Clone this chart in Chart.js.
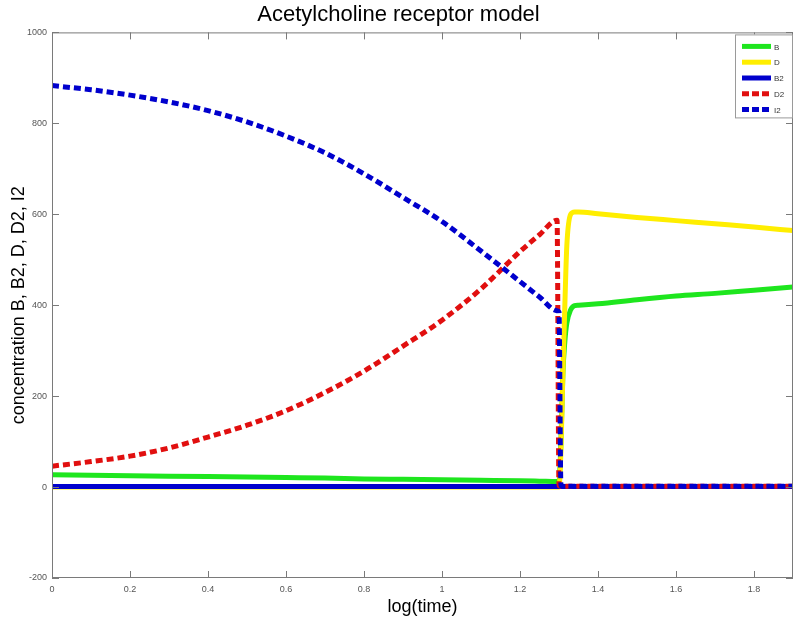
<!DOCTYPE html>
<html>
<head>
<meta charset="utf-8">
<title>Acetylcholine receptor model</title>
<script src="https://cdn.jsdelivr.net/npm/chart.js@4.4.1/dist/chart.umd.min.js"></script>
<style>
  html, body { margin: 0; padding: 0; background: #fff; }
  #wrap { width: 795px; height: 621px; }
</style>
</head>
<body>
<div id="wrap"><canvas id="receptor-chart"></canvas></div>
<script>
// values (log10 of time on x)
const logTime = [0, 0.1, 0.2, 0.3, 0.4, 0.5, 0.6, 0.7, 0.8, 0.9, 1.0, 1.1, 1.2,
    1.25, 1.295, 1.3, 1.305, 1.31, 1.315, 1.32, 1.33, 1.34, 1.35,
    1.4, 1.5, 1.6, 1.7, 1.8, 1.9];

const seriesB = [27, 26, 25, 24, 23, 22, 21, 20, 18, 17, 16, 15, 14,
    13, 12, 12, 100, 250, 320, 360, 390, 399, 400,
    403, 412, 420, 426, 433, 440];
const seriesD = [0, 0, 0, 0, 0, 0, 0, 0, 0, 0, 0, 0, 0,
    0, 0, 0, 80, 250, 400, 530, 600, 605, 605,
    601, 593, 586, 579, 572, 564];
const seriesB2 = [1, 1, 1, 1, 1, 1, 1, 1, 1, 1, 1, 1, 1,
    1, 1, 1, 1, 1, 1, 1, 1, 1, 1,
    1, 1, 1, 1, 1, 1];
const seriesD2 = [46, 56, 68, 86, 110, 136, 168, 208, 255, 310, 367, 436, 518,
    555, 587, 3, 2, 2, 2, 2, 2, 2, 2,
    2, 2, 2, 2, 2, 2];
const seriesI2 = [883, 874, 862, 847, 828, 803, 772, 735, 689, 637, 584, 519, 452,
    418, 388, 385, 3, 2, 2, 2, 2, 2, 2,
    2, 2, 2, 2, 2, 2];

const xTicks = [0, 0.2, 0.4, 0.6, 0.8, 1, 1.2, 1.4, 1.6, 1.8];
const yTicks = [-200, 0, 200, 400, 600, 800, 1000];

function points(vals) {
    return logTime.map((t, i) => ({ x: t, y: vals[i] }));
}

function makeSet(label, vals, color, dashed, order) {
    return {
        label: label,
        data: points(vals),
        borderColor: color,
        backgroundColor: color,
        borderWidth: 5,
        borderDash: dashed ? [7, 4] : [],
        pointRadius: 0,
        cubicInterpolationMode: 'monotone',
        order: order
    };
}

// box with inward ticks on all sides, like the original plot
const frameTicks = {
    id: 'frameTicks',
    afterDatasetsDraw(chart) {
        const { ctx, chartArea: a, scales } = chart;
        const len = 7;
        ctx.save();
        ctx.strokeStyle = '#7a7a7a';
        ctx.lineWidth = 1;
        ctx.strokeRect(a.left + 0.5, a.top + 0.5, a.right - a.left - 1, a.bottom - a.top - 1);
        ctx.beginPath();
        xTicks.forEach(v => {
            const px = Math.round(scales.x.getPixelForValue(v)) + 0.5;
            ctx.moveTo(px, a.bottom); ctx.lineTo(px, a.bottom - len);
            ctx.moveTo(px, a.top); ctx.lineTo(px, a.top + len);
        });
        yTicks.forEach(v => {
            const py = Math.round(scales.y.getPixelForValue(v)) + 0.5;
            ctx.moveTo(a.left, py); ctx.lineTo(a.left + len, py);
            ctx.moveTo(a.right, py); ctx.lineTo(a.right - len, py);
        });
        ctx.stroke();
        ctx.restore();
    }
};

// boxed legend in the top right corner
const boxLegend = {
    id: 'boxLegend',
    afterDraw(chart) {
        const { ctx, chartArea: a } = chart;
        const sets = chart.data.datasets;
        const w = 57, h = 83;
        const left = a.right - w - 1, top = a.top + 2;
        ctx.save();
        ctx.fillStyle = '#fff';
        ctx.fillRect(left, top, w, h);
        ctx.strokeStyle = '#9a9a9a';
        ctx.lineWidth = 1;
        ctx.strokeRect(left + 0.5, top + 0.5, w, h);
        ctx.font = '8px "Liberation Sans", Arial, sans-serif';
        ctx.textBaseline = 'middle';
        sets.forEach((ds, i) => {
            const yy = top + 12 + i * 15.8;
            ctx.strokeStyle = ds.borderColor;
            ctx.lineWidth = 5;
            ctx.setLineDash(ds.borderDash.length ? [7, 3] : []);
            ctx.beginPath();
            ctx.moveTo(left + 7, yy);
            ctx.lineTo(left + 36, yy);
            ctx.stroke();
            ctx.setLineDash([]);
            ctx.fillStyle = '#333';
            ctx.fillText(ds.label, left + 39, yy + 1);
        });
        ctx.restore();
    }
};

const chartData = {
    datasets: [
        makeSet('B', seriesB, 'rgb(30, 230, 30)', false, 5),
        makeSet('D', seriesD, 'rgb(255, 238, 0)', false, 4),
        makeSet('B2', seriesB2, 'rgb(0, 0, 205)', false, 3),
        makeSet('D2', seriesD2, 'rgb(225, 15, 15)', true, 2),
        makeSet('I2', seriesI2, 'rgb(0, 0, 205)', true, 1)
    ]
};

const tickFont = { family: '"Liberation Sans", Arial, sans-serif', size: 9 };
const titleFont = { family: '"Liberation Sans", Arial, sans-serif', size: 18 };

const config = {
    type: 'line',
    data: chartData,
    options: {
        responsive: true,
        maintainAspectRatio: false,
        animation: false,
        layout: { padding: { left: 4, right: 2, top: 0, bottom: 0 } },
        plugins: {
            legend: { display: false },
            tooltip: { enabled: false },
            title: {
                display: true,
                text: 'Acetylcholine receptor model',
                color: '#000',
                font: { family: '"Liberation Sans", Arial, sans-serif', size: 22, weight: 'normal' },
                padding: { top: 2, bottom: 4 }
            }
        },
        scales: {
            x: {
                type: 'linear',
                min: 0,
                max: 1.9,
                afterFit: function(scale) { scale.height = 43; },
                afterBuildTicks: function(scale) {
                    scale.ticks = xTicks.map(v => ({ value: v }));
                },
                grid: { display: false, drawTicks: false },
                border: { display: false },
                ticks: {
                    color: '#555',
                    font: tickFont,
                    padding: 6,
                    maxRotation: 0,
                    callback: v => String(Math.round(v * 10) / 10)
                },
                title: {
                    display: true,
                    text: 'log(time)',
                    color: '#000',
                    font: titleFont,
                    padding: { top: 0, bottom: 3 }
                }
            },
            y: {
                min: -200,
                max: 1000,
                afterFit: function(scale) { scale.width = 48; },
                afterBuildTicks: function(scale) {
                    scale.ticks = yTicks.map(v => ({ value: v }));
                },
                grid: { display: false, drawTicks: false },
                border: { display: false },
                ticks: {
                    color: '#555',
                    font: tickFont,
                    padding: 5,
                    callback: v => String(v)
                },
                title: {
                    display: true,
                    text: 'concentration B, B2, D, D2, I2',
                    color: '#000',
                    font: titleFont,
                    padding: { top: 4, bottom: 0 }
                }
            }
        }
    },
    plugins: [frameTicks, boxLegend]
};

const receptorChart = new Chart(document.getElementById('receptor-chart'), config);
</script>
</body>
</html>
